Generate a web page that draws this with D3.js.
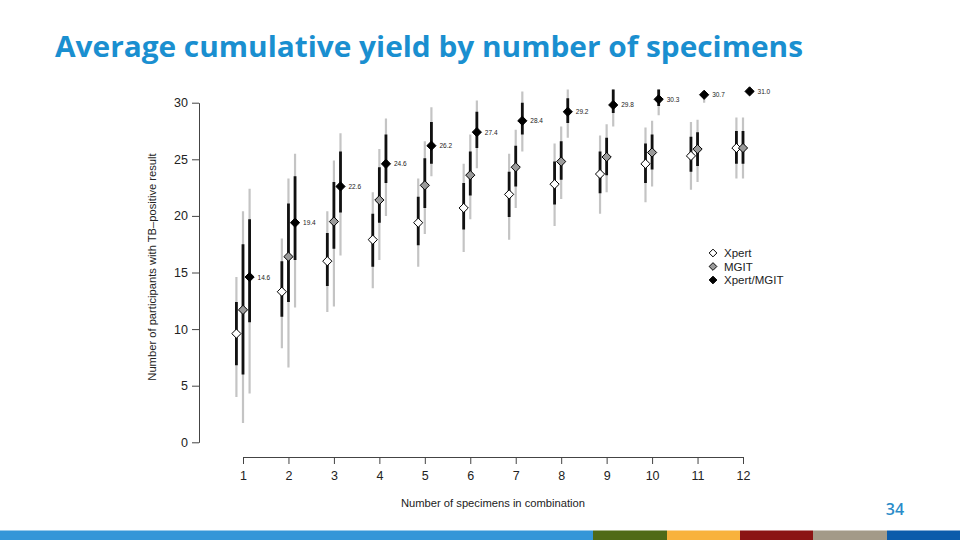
<!DOCTYPE html>
<html>
<head>
<meta charset="utf-8">
<script src="https://cdn.jsdelivr.net/npm/d3@7"></script>
<style>
  body { margin: 0; background: #fff; }
  svg { display: block; }
</style>
</head>
<body>
<svg width="960" height="540"></svg>
<script>
'use strict';

// chart values
const SPECIMENS = [1, 2, 3, 4, 5, 6, 7, 8, 9, 10, 11, 12];
const Y_TICKS = [0, 5, 10, 15, 20, 25, 30];

const xpertMean    = [9.6, 13.3, 16.0, 17.9, 19.4, 20.7, 21.9, 22.8, 23.7, 24.6, 25.3, 26.0];
const xpertInnerLo = [6.8, 11.1, 13.8, 15.5, 17.4, 18.8, 19.9, 21.0, 22.0, 22.9, 23.9, 24.6];
const xpertInnerHi = [12.4, 16.0, 18.5, 20.2, 21.7, 22.9, 23.9, 24.8, 25.7, 26.4, 27.0, 27.5];
const xpertOuterLo = [4.0, 8.3, 11.5, 13.6, 15.5, 16.8, 17.9, 19.1, 20.2, 21.2, 22.3, 23.3];
const xpertOuterHi = [14.6, 18.0, 20.4, 22.1, 23.3, 24.6, 25.5, 26.4, 27.1, 27.8, 28.3, 28.7];

const mgitMean    = [11.7, 16.4, 19.5, 21.4, 22.7, 23.6, 24.3, 24.8, 25.2, 25.6, 25.9, 26.0];
const mgitInnerLo = [6.0, 12.4, 17.1, 19.4, 20.7, 21.8, 22.6, 23.2, 23.6, 24.1, 24.4, 24.6];
const mgitInnerHi = [17.5, 21.1, 23.0, 24.3, 25.1, 25.7, 26.2, 26.6, 26.9, 27.2, 27.4, 27.5];
const mgitOuterLo = [1.7, 6.6, 12.0, 16.1, 18.4, 19.7, 20.7, 21.5, 22.1, 22.6, 23.0, 23.3];
const mgitOuterHi = [20.4, 23.3, 24.9, 25.9, 26.6, 27.2, 27.6, 27.9, 28.1, 28.4, 28.5, 28.7];

const comboMean    = [14.6, 19.4, 22.6, 24.6, 26.2, 27.4, 28.4, 29.2, 29.8, 30.3, 30.7, 31.0];
const comboInnerLo = [10.6, 16.1, 20.3, 22.9, 24.6, 26.0, 27.2, 28.2, 29.1, 29.7, 30.5, 31.0];
const comboInnerHi = [19.7, 23.5, 25.7, 27.2, 28.3, 29.2, 30.0, 30.4, 31.4, 31.4, 31.0, 31.0];
const comboOuterLo = [4.3, 11.9, 16.5, 20.0, 23.5, 24.2, 25.7, 26.9, 27.9, 28.9, 30.0, 31.0];
const comboOuterHi = [22.4, 25.5, 27.3, 28.6, 29.6, 30.2, 31.0, 31.4, 31.6, 31.6, 31.0, 31.0];
const comboLabels  = ["14.6", "19.4", "22.6", "24.6", "26.2", "27.4", "28.4", "29.2", "29.8", "30.3", "30.7", "31.0"];

const SERIES_NAMES = ["Xpert", "MGIT", "Xpert/MGIT"];

const FONT = "'Liberation Sans', Arial, Helvetica, sans-serif";
const TITLE_BLUE = "#1a8fd0";
const DODGE = 0.145;   // horizontal dodge between the three series, in x units

const svg = d3.select("svg");

// slide title
svg.append("text")
   .attr("x", 55)
   .attr("y", 57)
   .attr("font-family", "'Open Sans', sans-serif")
   .attr("font-weight", 700)
   .attr("font-size", 29)
   .attr("fill", TITLE_BLUE)
   .attr("textLength", 748)
   .attr("lengthAdjust", "spacingAndGlyphs")
   .text("Average cumulative yield by number of specimens");

// scales
const x = d3.scaleLinear().domain([1, 12]).range([243, 743]);
const y = d3.scaleLinear().domain([0, 30]).range([442.3, 102.7]);

// axes
const axisY = svg.append("g")
   .attr("transform", "translate(199,0)")
   .call(d3.axisLeft(y).tickValues(Y_TICKS).tickSize(7).tickSizeOuter(0).tickPadding(4));

const axisX = svg.append("g")
   .attr("transform", "translate(0,457)")
   .call(d3.axisBottom(x).tickValues(SPECIMENS).tickSize(7).tickSizeOuter(0).tickPadding(7));

[axisX, axisY].forEach(g => {
   g.selectAll("path, line").attr("stroke", "#444").attr("stroke-width", 1);
   g.selectAll("text").attr("font-family", FONT).attr("font-size", 12.5).attr("fill", "#222");
});

svg.append("text")
   .attr("transform", "translate(156,267) rotate(-90)")
   .attr("text-anchor", "middle")
   .attr("font-family", FONT)
   .attr("font-size", 11.2)
   .attr("fill", "#222")
   .text("Number of participants with TB\u2013positive result");

svg.append("text")
   .attr("x", 493)
   .attr("y", 507)
   .attr("text-anchor", "middle")
   .attr("font-family", FONT)
   .attr("font-size", 11.2)
   .attr("fill", "#222")
   .text("Number of specimens in combination");

// the original figure was cropped at the top, which cuts the long intervals
svg.append("clipPath").attr("id", "plotclip")
   .append("rect").attr("x", 200).attr("y", 89.5).attr("width", 600).attr("height", 380);

const bars = svg.append("g").attr("clip-path", "url(#plotclip)");
const points = svg.append("g");

const series = [
   { name: SERIES_NAMES[0], off: -DODGE, fill: "#ffffff", mean: xpertMean, iLo: xpertInnerLo, iHi: xpertInnerHi, oLo: xpertOuterLo, oHi: xpertOuterHi },
   { name: SERIES_NAMES[1], off: 0, fill: "#9a9a9a", mean: mgitMean, iLo: mgitInnerLo, iHi: mgitInnerHi, oLo: mgitOuterLo, oHi: mgitOuterHi },
   { name: SERIES_NAMES[2], off: DODGE, fill: "#000000", mean: comboMean, iLo: comboInnerLo, iHi: comboInnerHi, oLo: comboOuterLo, oHi: comboOuterHi }
];

const diamond = d3.symbol().type(d3.symbolDiamond2).size(54);

series.forEach(s => {
   const rows = SPECIMENS.map((n, i) => ({ n, i }));
   const g = bars.append("g");

   // outer (light) interval
   g.selectAll(".outer").data(rows).enter().append("line")
      .attr("x1", d => x(d.n + s.off)).attr("x2", d => x(d.n + s.off))
      .attr("y1", d => y(s.oLo[d.i])).attr("y2", d => y(s.oHi[d.i]))
      .attr("stroke", "#c4c4c4").attr("stroke-width", 2.2);

   // inner (dark) interval
   g.selectAll(".inner").data(rows).enter().append("line")
      .attr("x1", d => x(d.n + s.off)).attr("x2", d => x(d.n + s.off))
      .attr("y1", d => y(s.iLo[d.i])).attr("y2", d => y(s.iHi[d.i]))
      .attr("stroke", "#111").attr("stroke-width", 2.8);

   points.append("g").selectAll(".pt").data(rows).enter().append("path")
      .attr("d", diamond)
      .attr("transform", d => `translate(${x(d.n + s.off)},${y(s.mean[d.i])})`)
      .attr("fill", s.fill)
      .attr("stroke", "#000")
      .attr("stroke-width", 1);
});

// value labels next to the combined series
points.selectAll(".vlab").data(SPECIMENS).enter().append("text")
   .attr("x", (d, i) => x(d + DODGE) + 8)
   .attr("y", (d, i) => y(comboMean[i]) + 2.5)
   .attr("font-family", FONT)
   .attr("font-size", 6.5)
   .attr("fill", "#222")
   .text((d, i) => comboLabels[i]);

// legend
const legend = svg.append("g");
const legendRows = legend.selectAll("g").data(series).enter().append("g")
   .attr("transform", (d, i) => `translate(713,${253 + i * 13.5})`);
legendRows.append("path")
   .attr("d", d3.symbol().type(d3.symbolDiamond2).size(38))
   .attr("fill", d => d.fill)
   .attr("stroke", "#000")
   .attr("stroke-width", 1);
legendRows.append("text")
   .attr("x", 11)
   .attr("y", 4)
   .attr("font-family", FONT)
   .attr("font-size", 11.5)
   .attr("fill", "#222")
   .text(d => d.name);

// page number
svg.append("text")
   .attr("x", 895)
   .attr("y", 515)
   .attr("text-anchor", "middle")
   .attr("font-family", "'Open Sans', sans-serif")
   .attr("font-weight", 600)
   .attr("font-size", 16)
   .attr("fill", "#2a8cc9")
   .text("34");

// footer colour strip
const stripStops = [0, 593, 667, 740, 813, 887, 960];
const stripColors = ["#3496d8", "#4f6a17", "#f8b23c", "#8b1414", "#a39a88", "#0b5cab"];
svg.append("g").selectAll("rect").data(stripColors).enter().append("rect")
   .attr("x", (d, i) => stripStops[i])
   .attr("y", 530.5)
   .attr("width", (d, i) => stripStops[i + 1] - stripStops[i])
   .attr("height", 10)
   .attr("fill", d => d);
</script>
</body>
</html>
